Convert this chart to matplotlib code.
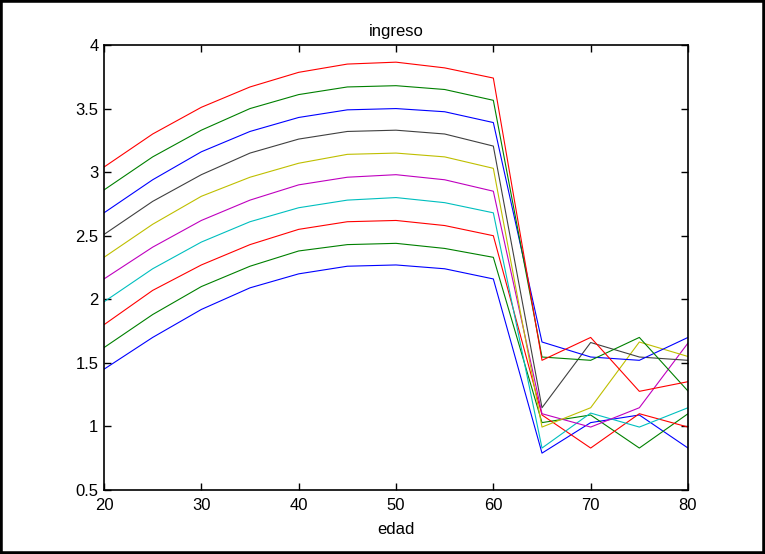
import matplotlib
matplotlib.use("Agg")
import matplotlib.pyplot as plt
from matplotlib.patches import Rectangle

edad = [20, 25, 30, 35, 40, 45, 50, 55, 60, 65, 70, 75, 80]

ing01 = [1.45, 1.70, 1.92, 2.09, 2.20, 2.26, 2.27, 2.24, 2.16, 0.79, 1.03, 1.09, 0.83]
ing02 = [1.62, 1.88, 2.10, 2.26, 2.38, 2.43, 2.44, 2.40, 2.33, 1.03, 1.09, 0.83, 1.10]
ing03 = [1.80, 2.07, 2.27, 2.43, 2.55, 2.61, 2.62, 2.58, 2.50, 1.09, 0.83, 1.10, 0.995]
ing04 = [1.98, 2.24, 2.45, 2.61, 2.72, 2.78, 2.80, 2.76, 2.68, 0.83, 1.105, 0.995, 1.147]
ing05 = [2.16, 2.41, 2.62, 2.78, 2.90, 2.96, 2.98, 2.94, 2.85, 1.10, 0.995, 1.147, 1.656]
ing06 = [2.33, 2.59, 2.81, 2.96, 3.07, 3.14, 3.15, 3.12, 3.03, 0.995, 1.147, 1.664, 1.55]
ing07 = [2.51, 2.77, 2.98, 3.15, 3.26, 3.32, 3.33, 3.30, 3.205, 1.147, 1.66, 1.546, 1.52]
ing08 = [2.68, 2.94, 3.16, 3.32, 3.43, 3.49, 3.50, 3.475, 3.39, 1.664, 1.546, 1.52, 1.70]
ing09 = [2.86, 3.12, 3.33, 3.50, 3.61, 3.67, 3.68, 3.65, 3.565, 1.546, 1.52, 1.70, 1.278]
ing10 = [3.04, 3.30, 3.51, 3.67, 3.785, 3.85, 3.865, 3.82, 3.74, 1.52, 1.70, 1.276, 1.352]

series = [ing01, ing02, ing03, ing04, ing05, ing06, ing07, ing08, ing09, ing10]

xticks = [20, 30, 40, 50, 60, 70, 80]
yticks = [0.5, 1, 1.5, 2, 2.5, 3, 3.5, 4]
ytick_labels = ["0.5", "1", "1.5", "2", "2.5", "3", "3.5", "4"]

colors = [(0, 0, 1), (0, 0.5, 0), (1, 0, 0), (0, 0.75, 0.75), (0.75, 0, 0.75),
          (0.75, 0.75, 0), (0.25, 0.25, 0.25)]

plt.rcParams['font.family'] = ['Liberation Sans', 'DejaVu Sans']

fig = plt.figure(figsize=(7.65, 5.54), dpi=100)
ax = fig.add_axes([104 / 765, 1 - 490 / 554, (688 - 104) / 765, (490 - 45) / 554])

for i, s in enumerate(series):
    ax.plot(edad, s, color=colors[i % len(colors)], linewidth=0.8)

ax.set_xlim(20, 80)
ax.set_ylim(0.5, 4)
ax.set_xticks(xticks)
ax.set_yticks(yticks)
ax.set_yticklabels(ytick_labels)
ax.tick_params(direction='in', top=True, right=True, length=5, width=1,
               labelsize=12)
ax.tick_params(axis='x', pad=6)
ax.tick_params(axis='y', pad=4)
for sp in ax.spines.values():
    sp.set_linewidth(1.2)
ax.set_title("ingreso", fontsize=12, pad=6.5)
ax.set_xlabel("edad", fontsize=12, labelpad=6)

fig.patches.append(Rectangle((0, 0), 1, 1, transform=fig.transFigure,
                             fill=False, edgecolor='black', linewidth=4,
                             zorder=10))

fig.savefig("out.png", dpi=100)
